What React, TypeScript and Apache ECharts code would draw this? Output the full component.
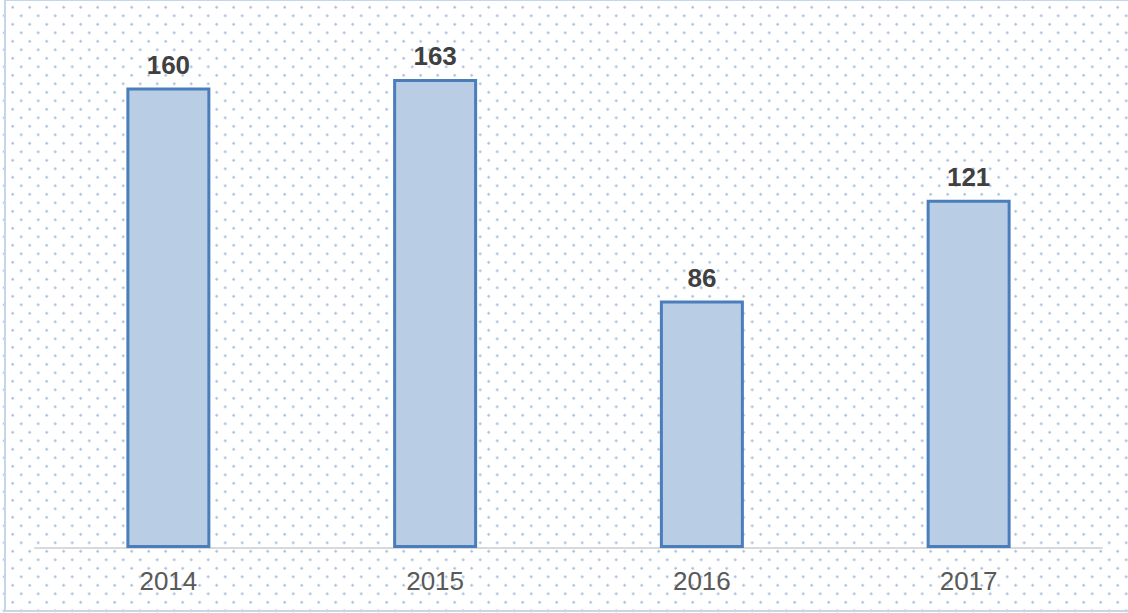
import React, { useEffect, useRef } from "react";
import * as echarts from "echarts";

const categories = ["2014", "2015", "2016", "2017"];
const values = [160, 163, 86, 121];

export default function App() {
  const ref = useRef<HTMLDivElement>(null);
  useEffect(() => {
    if (!ref.current) return;
    const chart = echarts.init(ref.current, undefined, { renderer: "svg" });
    chart.setOption({
      animation: false,
      backgroundColor: "transparent",
      grid: { left: 35, right: 26, top: 30, bottom: 65 },
      xAxis: {
        type: "category",
        data: categories,
        axisLine: { show: true, lineStyle: { color: "#d9d9d9", width: 2 } },
        axisTick: { show: false },
        axisLabel: {
          color: "#595959",
          fontSize: 26,
          fontFamily: "Arial, 'Liberation Sans', sans-serif",
          margin: 20,
        },
      },
      yAxis: {
        type: "value",
        min: 0,
        max: 180,
        show: false,
        splitLine: { show: false },
      },
      series: [
        {
          type: "bar",
          data: values,
          barWidth: 84,
          itemStyle: { color: "#b9cde5", borderColor: "#4a7ebb", borderWidth: 3 },
          label: {
            show: true,
            position: "top",
            distance: 10,
            color: "#404040",
            fontSize: 26,
            fontWeight: "bold",
            fontFamily: "Arial, 'Liberation Sans', sans-serif",
          },
        },
      ],
    });
    return () => chart.dispose();
  }, []);

  const dot = "radial-gradient(circle, #a9c1e2 1px, rgba(255,255,255,0) 1.5px)";
  return (
    <div
      style={{
        position: "fixed",
        left: 0,
        top: 0,
        width: 1128,
        height: 613,
        overflow: "hidden",
        background: "#ffffff",
        backgroundImage: `${dot}, ${dot}`,
        backgroundSize: "17px 17px, 17px 17px",
        backgroundPosition: "4.2px -1.2px, 12.7px 7.3px",
      }}
    >
      <div
        style={{
          position: "absolute",
          left: 4,
          top: -1,
          width: 1140,
          height: 613,
          border: "2px solid #c6d6ea",
          boxSizing: "border-box",
        }}
      />
      <div ref={ref} style={{ position: "absolute", left: 0, top: 0, width: 1128, height: 613 }} />
    </div>
  );
}
